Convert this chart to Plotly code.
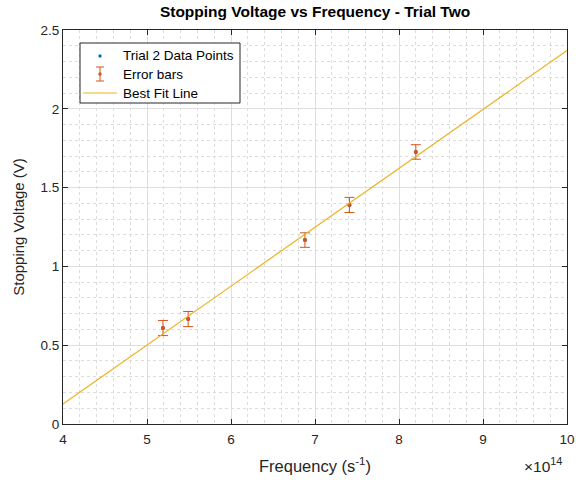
import plotly.graph_objects as go

freq = [5.19, 5.49, 6.88, 7.41, 8.20]          # x 10^14 Hz
voltage = [0.609, 0.666, 1.167, 1.390, 1.726]  # V
err = [0.048, 0.048, 0.046, 0.048, 0.046]      # V
fit_x = [4, 10]
fit_y = [0.127, 2.37]
legend_labels = ["Trial 2 Data Points", "Error bars", "Best Fit Line"]

blue = "#0072BD"
red = "#D95319"
yellow = "#EDB120"
axc = "#262626"
font = "Liberation Sans, Arial, sans-serif"

fig = go.Figure()
fig.add_trace(go.Scatter(x=freq, y=voltage, mode="markers", name=legend_labels[0],
                         marker=dict(color=blue, size=4), showlegend=False))
fig.add_trace(go.Scatter(x=freq, y=voltage, mode="markers", name=legend_labels[1],
                         marker=dict(color=red, size=4), showlegend=False,
                         error_y=dict(type="data", array=err, color=red, thickness=1, width=5)))
fig.add_trace(go.Scatter(x=fit_x, y=fit_y, mode="lines", name=legend_labels[2],
                         line=dict(color=yellow, width=1.2), showlegend=False))

axis_common = dict(
    showline=True, linecolor=axc, linewidth=1, mirror="ticks",
    ticks="inside", ticklen=5, tickcolor=axc, tickwidth=1,
    showgrid=True, gridcolor="#dedede", gridwidth=1,
    zeroline=False, automargin=False,
    tickfont=dict(family=font, size=13.5, color=axc),
)

fig.update_xaxes(range=[4, 10], dtick=1, tick0=4, ticklabelstandoff=3,
                 minor=dict(dtick=0.2, showgrid=True, gridcolor="#dcdcdc", griddash="dot", ticks=""),
                 title=dict(text="Frequency (s<sup>-1</sup>)", font=dict(family=font, size=16.5, color=axc), standoff=14),
                 **axis_common)
fig.update_yaxes(range=[0, 2.5], dtick=0.5, tick0=0,
                 minor=dict(dtick=0.1, showgrid=True, gridcolor="#dcdcdc", griddash="dot", ticks=""),
                 title=dict(text="Stopping Voltage (V)", font=dict(family=font, size=15, color=axc), standoff=12),
                 **axis_common)

fig.add_annotation(text="×10<sup>14</sup>", xref="paper", yref="paper", x=0.995, y=-0.103,
                   xanchor="right", yanchor="middle", showarrow=False,
                   font=dict(family=font, size=15.5, color=axc))

# ---- custom legend (paper coordinates) ----
def px_x(p):
    return (p - 63) / 504.0

def px_y(p):
    return (424 - p) / 394.0

fig.add_shape(type="rect", xref="paper", yref="paper",
              x0=px_x(80), x1=px_x(240), y0=px_y(103), y1=px_y(43),
              line=dict(color=axc, width=1), fillcolor="white", layer="above")
rows = [56, 74, 93]
sym_x = 100
# blue dot
fig.add_shape(type="circle", xref="paper", yref="paper",
              x0=px_x(sym_x - 1.7), x1=px_x(sym_x + 1.7), y0=px_y(rows[0] + 1.7), y1=px_y(rows[0] - 1.7),
              line=dict(color=blue, width=0), fillcolor=blue, layer="above")
# error bar symbol
eb_top, eb_bot = rows[1] - 7, rows[1] + 7
fig.add_shape(type="line", xref="paper", yref="paper",
              x0=px_x(sym_x), x1=px_x(sym_x), y0=px_y(eb_bot), y1=px_y(eb_top),
              line=dict(color=red, width=1), layer="above")
for yy in (eb_top, eb_bot):
    fig.add_shape(type="line", xref="paper", yref="paper",
                  x0=px_x(sym_x - 4), x1=px_x(sym_x + 4), y0=px_y(yy), y1=px_y(yy),
                  line=dict(color=red, width=1), layer="above")
fig.add_shape(type="circle", xref="paper", yref="paper",
              x0=px_x(sym_x - 1.7), x1=px_x(sym_x + 1.7), y0=px_y(rows[1] + 1.7), y1=px_y(rows[1] - 1.7),
              line=dict(color=red, width=0), fillcolor=red, layer="above")
# line symbol
fig.add_shape(type="line", xref="paper", yref="paper",
              x0=px_x(83), x1=px_x(117), y0=px_y(rows[2]), y1=px_y(rows[2]),
              line=dict(color=yellow, width=1.2), layer="above")
for lbl, r in zip(legend_labels, rows):
    fig.add_annotation(text=lbl, xref="paper", yref="paper", x=px_x(121), y=px_y(r),
                       xanchor="left", yanchor="middle", showarrow=False,
                       font=dict(family=font, size=13.5, color="black"))

fig.update_layout(
    width=584, height=480,
    margin=dict(l=63, r=17, t=30, b=56, autoexpand=False),
    paper_bgcolor="white", plot_bgcolor="white",
    title=dict(text="<b>Stopping Voltage vs Frequency - Trial Two</b>", x=0.5395, xanchor="center",
               y=0.975, yanchor="middle", font=dict(family=font, size=15.5, color="black")),
    showlegend=False,
)

fig.write_html("out.html", config={"displayModeBar": False},
               post_script="document.body.style.margin='0px';document.body.style.overflow='hidden';")
